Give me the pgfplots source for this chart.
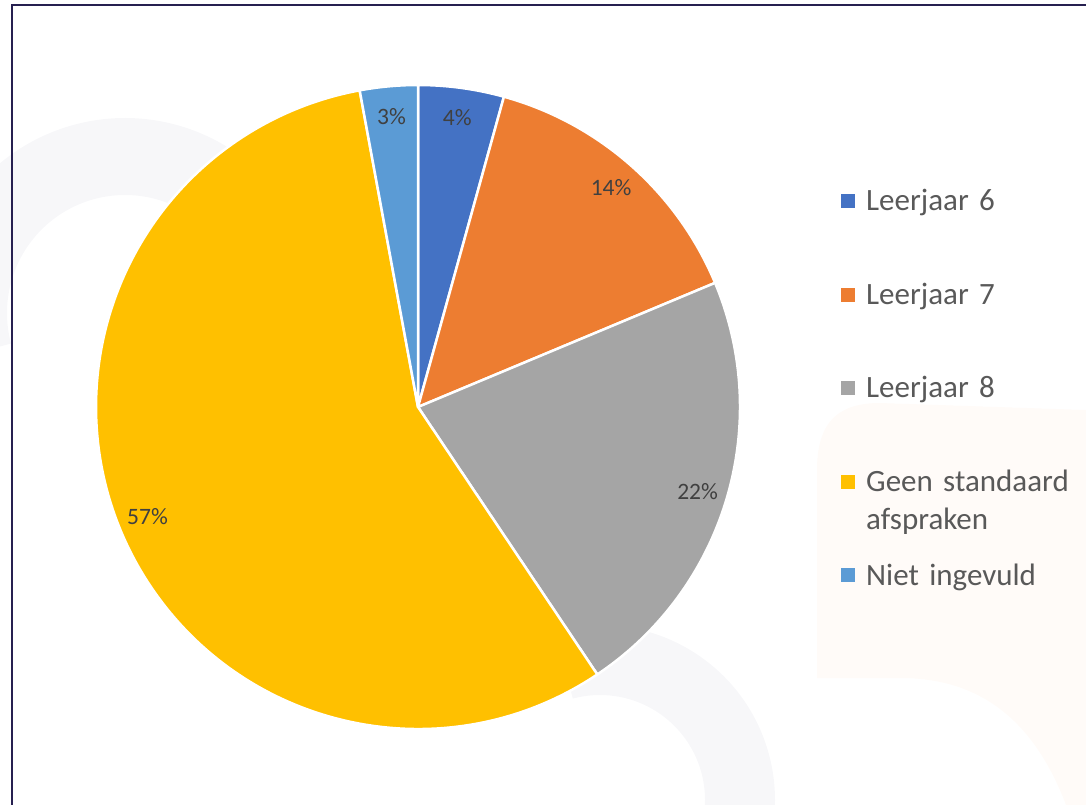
\documentclass[border=0pt]{standalone}
\usepackage{fontspec}
\setmainfont{Carlito}
\usepackage{pgfplots}
\usepackage{pgfplotstable}
\usetikzlibrary{calc}
\pgfplotsset{compat=1.18}
\definecolor{c1}{HTML}{4472C4}
\definecolor{c2}{HTML}{ED7D31}
\definecolor{c3}{HTML}{A5A5A5}
\definecolor{c4}{HTML}{FFC000}
\definecolor{c5}{HTML}{5B9BD5}
\definecolor{lblc}{HTML}{404040}
\definecolor{legc}{HTML}{595959}
\definecolor{framec}{HTML}{262050}
\definecolor{wmgray}{HTML}{F7F7F9}
\definecolor{wmorange}{HTML}{FFFBF8}
\tikzset{
  lbl/.style={font=\fontsize{23.5}{28}\selectfont, text=lblc, inner sep=0pt, anchor=center},
  leg/.style={font=\fontsize{31}{38}\selectfont, text=legc, inner sep=0pt, anchor=base west, align=left, text width=215pt},
}
\pgfplotstableread[col sep=comma]{
name,value,color
Leerjaar 6,4.3,c1
Leerjaar 7,14.4,c2
Leerjaar 8,21.9,c3
Geen standaard afspraken,56.5,c4
Niet ingevuld,2.9,c5
}\piedata
\begin{document}
\begin{tikzpicture}
\begin{axis}[width=1086pt,height=805pt,scale only axis,
  xmin=0,xmax=1086,ymin=0,ymax=805,y dir=reverse,
  hide axis,clip=false]
% faint watermark shapes
\fill[wmgray] ($(axis cs:125,313)+(195:195pt)$) arc[start angle=195, end angle=-5, radius=195pt]
   -- ($(axis cs:125,313)+(-5:118pt)$) arc[start angle=-5, end angle=195, radius=118pt] -- cycle;
\fill[wmgray] ($(axis cs:600,800)+(105:175pt)$) arc[start angle=105, end angle=-90, radius=175pt]
   -- ($(axis cs:600,800)+(-90:105pt)$) arc[start angle=-90, end angle=105, radius=105pt] -- cycle;
\fill[wmorange] (axis cs:817,678) -- (axis cs:817,470) .. controls (axis cs:817,420) and (axis cs:840,403) .. (axis cs:880,403)
   -- (axis cs:1086,410) -- (axis cs:1086,805) -- (axis cs:1066,805)
   .. controls (axis cs:1030,710) and (axis cs:970,678) .. (axis cs:900,678) -- cycle;
% frame
\draw[framec, line width=2pt] (axis cs:12,806) -- (axis cs:12,5) -- (axis cs:1087,5);
% pie
\def\cum{0}
\pgfplotsforeachungrouped \i in {0,...,4}{%
  \pgfplotstablegetelem{\i}{value}\of\piedata \let\v\pgfplotsretval
  \pgfplotstablegetelem{\i}{color}\of\piedata \let\c\pgfplotsretval
  \pgfplotstablegetelem{\i}{name}\of\piedata \let\n\pgfplotsretval
  \pgfmathsetmacro\a{90-3.6*\cum}%
  \pgfmathsetmacro\b{90-3.6*(\cum+\v)}%
  \pgfmathsetmacro\ly{201+93.6*\i}%
  \pgfmathsetmacro\lya{\ly-7}%
  \pgfmathsetmacro\lyb{\ly+7}%
  \pgfmathsetmacro\lyt{\ly+9.7}%
  \edef\temp{%
    \noexpand\fill[\c, draw=white, line width=2.5pt, line join=round] (axis cs:418,407) -- ++(\a:322pt) arc[start angle=\a, end angle=\b, radius=322pt] -- cycle;
    \noexpand\fill[\c] (axis cs:841,\lya) rectangle (axis cs:855,\lyb);
    \noexpand\node[leg] at (axis cs:866,\lyt) {\n};
  }%
  \temp
  \pgfmathsetmacro\cum{\cum+\v}%
}
\def\cum{0}
\pgfplotsforeachungrouped \i in {0,...,4}{%
  \pgfplotstablegetelem{\i}{value}\of\piedata \let\v\pgfplotsretval
  \pgfmathsetmacro\m{90-3.6*(\cum+\v/2)}%
  \pgfmathtruncatemacro\p{round(\v)}%
  \edef\temp{%
    \noexpand\node[lbl] at ($(axis cs:418,407)+(\m:292pt)$) {\p\noexpand\%};
  }%
  \temp
  \pgfmathsetmacro\cum{\cum+\v}%
}
\end{axis}
\pgfresetboundingbox
\useasboundingbox (0,0) rectangle (1086pt,805pt);
\end{tikzpicture}
\end{document}
